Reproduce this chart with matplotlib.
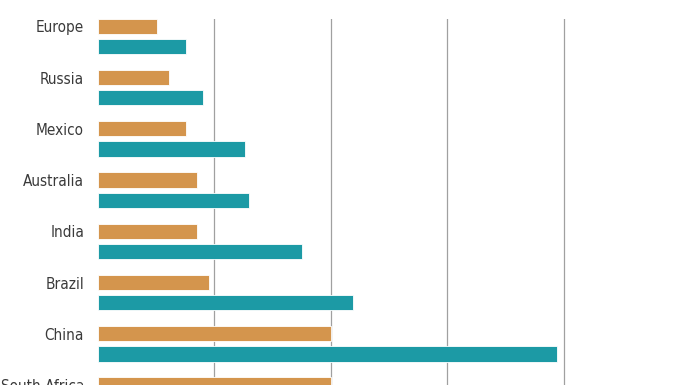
import matplotlib.pyplot as plt
import numpy as np

countries = ["Europe", "Russia", "Mexico", "Australia", "India", "Brazil", "China", "South Africa"]
orange_vals = [0.51, 0.61, 0.76, 0.85, 0.85, 0.95, 2.0, 2.0]
teal_vals = [0.76, 0.90, 1.26, 1.30, 1.75, 2.19, 3.94, 3.9]
grid_ticks = [1, 2, 3, 4]

orange = "#D4954D"
teal = "#1C9AA5"

fig = plt.figure(figsize=(6.96, 3.85), dpi=100)
# axes: left edge at x=98px, top at y=19px, bottom runs off the figure
ax = fig.add_axes([98 / 696, 0, (680 - 98) / 696, (385 - 19) / 385])

y = np.arange(len(countries))
h = 15.5 / 52
off = 20.5 / 52
ax.barh(y, orange_vals, height=h, color=orange, edgecolor="white", linewidth=0.6, zorder=3)
ax.barh(y + off, teal_vals, height=h, color=teal, edgecolor="white", linewidth=0.6, zorder=3)

ax.set_xlim(0, 5)
ax.set_ylim((385 - 26.5) / 52, -7.5 / 52)

for t in grid_ticks:
    ax.axvline(t, color="#a0a0a0", linewidth=0.9, zorder=1)

for s in ax.spines.values():
    s.set_visible(False)
ax.set_xticks([])
ax.set_yticks(y)
ax.set_yticklabels(countries, family="DejaVu Sans", stretch="condensed", fontsize=11, color="#3a3a3a")
ax.tick_params(axis="y", length=0, pad=10)

fig.savefig("out.png", dpi=100)
